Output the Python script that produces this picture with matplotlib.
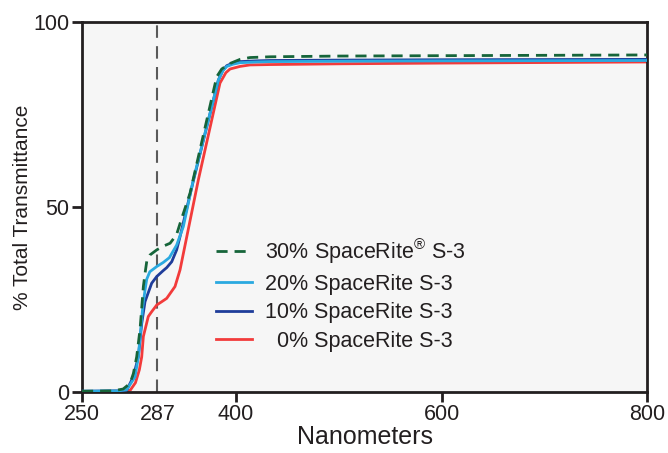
import numpy as np
import matplotlib
matplotlib.use('Agg')
import matplotlib.pyplot as plt

plt.rcParams['font.family'] = ['Liberation Sans Narrow', 'Liberation Sans', 'DejaVu Sans']
plt.rcParams['mathtext.fontset'] = 'custom'
plt.rcParams['mathtext.rm'] = 'Liberation Sans'

# wavelength (nm) / % transmittance
wl_30 = [250, 280, 290, 296.7, 300, 303.2, 306.5, 309.7, 311.3, 313.0, 316, 322.7, 329, 335.7,
         342, 346.5, 355.1, 381.1, 386, 394.1, 403.8, 413.5, 433, 500, 600, 700, 800]
t_30 = [0.2, 0.3, 0.8, 2.3, 5, 9.5, 17, 28.5, 32, 35.3, 37.0, 38.4, 39.4, 40.2,
        42.5, 46.5, 53.7, 85.2, 87.3, 88.8, 89.9, 90.4, 90.6, 90.8, 90.9, 91.0, 91.1]

wl_20 = [250, 285, 293.5, 301.6, 304.8, 307.1, 309.1, 311.3, 313.0, 316, 322.7, 329, 335,
         342.1, 348.6, 358.3, 382.7, 387, 390.9, 397, 403.8, 420, 433, 500, 600, 800]
t_20 = [0.2, 0.3, 0.6, 4.1, 9.5, 16.8, 23, 27.5, 30.5, 32.5, 33.9, 35.0, 36.3,
        39.7, 44.7, 57.3, 84.3, 86.8, 88.0, 88.6, 89.0, 89.2, 89.3, 89.4, 89.5, 89.6]

wl_10 = [250, 285, 293.5, 299.9, 304.8, 308.1, 311.3, 317.8, 322.7, 329, 332.4, 337.3, 342.1,
         345.4, 358.3, 382.7, 387, 390.9, 397, 403.8, 420, 433, 500, 600, 800]
t_10 = [0.2, 0.3, 0.5, 4.1, 9.5, 18.5, 24.4, 29.4, 31.2, 32.8, 33.6, 35.2, 38.4,
        42, 57, 84.3, 86.9, 88.2, 88.9, 89.3, 89.5, 89.6, 89.7, 89.8, 89.9]

wl_0 = [250, 290, 297, 302, 305.8, 308.1, 309.7, 314.5, 317.8, 322.7, 327.6, 332.4, 340.5,
        345.4, 363.2, 384.3, 390, 394.1, 403.8, 413.5, 433, 500, 600, 800]
t_0 = [0.1, 0.2, 0.5, 2.5, 6, 9.5, 15.0, 20.4, 21.7, 23.5, 24.4, 25.3, 28.5,
       33, 57.3, 83.5, 86.3, 87.3, 88.0, 88.4, 88.5, 88.7, 88.9, 89.2]

marker_nm = 323.3  # where the dashed "287" line sits on the drawn axis
xtick_vals = [250, marker_nm, 400, 600, 800]
xtick_labels = ['250', '287', '400', '600', '800']
ytick_vals = [0, 50, 100]

fig = plt.figure(figsize=(6.68, 4.53), dpi=100)
ax = fig.add_axes([0.1228, 0.1347, 0.8458, 0.8167])
ax.set_facecolor('#f6f6f6')

ax.axvline(marker_nm, color='#5a5a5a', lw=1.5, dashes=(6, 4), zorder=1)

lw = 2.0
ax.plot(wl_0, t_0, color='#f23b3b', lw=lw, label='  0% SpaceRite S-3', zorder=2)
ax.plot(wl_10, t_10, color='#1f3d9a', lw=lw, label='10% SpaceRite S-3', zorder=3)
ax.plot(wl_20, t_20, color='#2aa9e0', lw=lw, label='20% SpaceRite S-3', zorder=4)
ax.plot(wl_30, t_30, color='#16653a', lw=lw, dashes=(4, 2.5),
        label='30% SpaceRite$^{®}$ S-3', zorder=5)

ax.set_xlim(250, 800)
ax.set_ylim(0, 100)
ax.set_xticks(xtick_vals)
ax.set_xticklabels(xtick_labels)
ax.set_yticks(ytick_vals)
ax.xaxis.get_major_ticks()[1].tick1line.set_visible(False)

for s in ax.spines.values():
    s.set_linewidth(2)
    s.set_color('#231f20')
ax.tick_params(axis='both', width=2, length=7, color='#231f20', labelsize=15.5,
               labelcolor='#231f20', pad=2)

ax.set_xlabel('Nanometers', fontsize=18, color='#231f20', labelpad=0)
ax.set_ylabel('% Total Transmittance', fontsize=15, color='#231f20')
ax.yaxis.set_label_coords(-0.088, 0.5)

handles, labels = ax.get_legend_handles_labels()
leg = ax.legend(handles[::-1], labels[::-1], loc='upper left', bbox_to_anchor=(0.202, 0.472),
                frameon=False, fontsize=15.5, handlelength=1.7, handletextpad=0.6,
                labelspacing=0.35)
for t in leg.get_texts():
    t.set_color('#231f20')

fig.savefig('out.png', dpi=100)
